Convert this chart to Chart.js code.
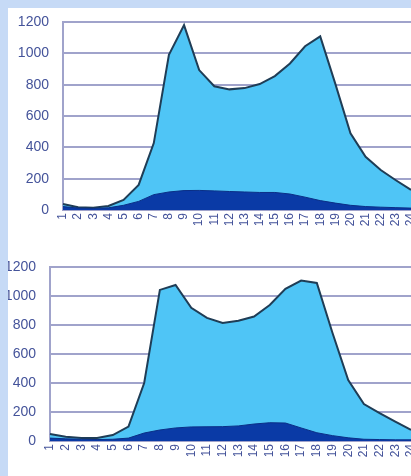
<!DOCTYPE html>
<html>
<head>
<meta charset="utf-8">
<title>Hourly area charts</title>
<script src="https://cdn.jsdelivr.net/npm/chart.js@4.4.1/dist/chart.umd.min.js"></script>
<style>
    html, body {
        margin: 0;
        padding: 0;
        width: 411px;
        height: 476px;
        overflow: hidden;
        background: #c6daf6;
    }
    #panel {
        position: absolute;
        left: 8px;
        top: 8px;
        width: 440px;
        height: 480px;
        background: #ffffff;
        overflow: hidden;
    }
    canvas {
        position: absolute;
        left: 0;
    }
    #topChart { top: 0; }
    #bottomChart { top: 226px; }
</style>
</head>
<body>
<div id="panel">
    <canvas id="topChart" width="423" height="226"></canvas>
    <canvas id="bottomChart" width="423" height="242"></canvas>
</div>

<script>
// hours of the day, x axis
const hours = ['1', '2', '3', '4', '5', '6', '7', '8', '9', '10', '11', '12',
               '13', '14', '15', '16', '17', '18', '19', '20', '21', '22', '23', '24'];

// y axis ticks
const yTicks = [0, 200, 400, 600, 800, 1000, 1200];

// upper chart
const topTotal = [38, 18, 15, 26, 64, 160, 427, 990, 1180, 893, 790, 770,
                  778, 804, 855, 935, 1045, 1108, 805, 490, 340, 255, 190, 128];
const topBase  = [22, 12, 10, 14, 30, 55, 98, 115, 124, 125, 122, 118,
                  115, 112, 112, 102, 82, 60, 44, 30, 22, 18, 15, 12];

// lower chart
const bottomTotal = [48, 30, 21, 20, 41, 99, 400, 1042, 1076, 918, 849, 814,
                     830, 858, 938, 1049, 1106, 1090, 745, 421, 255, 193, 133, 76];
const bottomBase  = [20, 15, 12, 10, 12, 20, 55, 76, 90, 97, 98, 99,
                     104, 117, 126, 124, 90, 57, 37, 22, 12, 10, 8, 8];

const LIGHT = '#4fc5f6';
const DARK = '#0a3aa6';
const OUTLINE = '#1f3d56';
const GRID = '#a0a3cb';
const TEXT = '#44539a';

function makeChart(canvasId, base, total, layout) {
    const ctx = document.getElementById(canvasId).getContext('2d');
    return new Chart(ctx, {
        type: 'line',
        data: {
            labels: hours,
            datasets: [
                {
                    // dark lower band (drawn on top)
                    data: base,
                    fill: 'origin',
                    backgroundColor: DARK,
                    borderColor: '#0b2f86',
                    borderWidth: 1,
                    pointRadius: 0,
                    tension: 0
                },
                {
                    // total
                    data: total,
                    fill: 'origin',
                    backgroundColor: LIGHT,
                    borderColor: OUTLINE,
                    borderWidth: 2,
                    pointRadius: 0,
                    tension: 0
                }
            ]
        },
        options: {
            responsive: false,
            animation: false,
            events: [],
            layout: {
                padding: { top: layout.top, right: 20, bottom: 0, left: 0 }
            },
            plugins: {
                legend: { display: false },
                tooltip: { enabled: false }
            },
            scales: {
                x: {
                    offset: false,
                    grid: { display: false, drawTicks: false },
                    border: { display: true, color: GRID, width: 2 },
                    ticks: {
                        color: TEXT,
                        font: { family: 'Liberation Sans, Arial', size: 12 },
                        minRotation: 90,
                        maxRotation: 90,
                        autoSkip: false,
                        padding: 3
                    },
                    afterFit: (scale) => { scale.height = layout.xHeight; }
                },
                y: {
                    min: 0,
                    max: 1200,
                    afterBuildTicks: (scale) => {
                        scale.ticks = yTicks.map(v => ({ value: v }));
                    },
                    // invisible tick marks keep the labels away from the axis
                    grid: { color: GRID, lineWidth: 2, drawTicks: true, tickLength: 14, tickColor: 'rgba(0,0,0,0)' },
                    border: { display: true, color: GRID, width: 2 },
                    ticks: {
                        color: TEXT,
                        font: { family: 'Liberation Sans, Arial', size: 14 },
                        padding: 0,
                        callback: (value) => String(value)
                    },
                    afterFit: (scale) => { scale.width = layout.yWidth; }
                }
            }
        }
    });
}

document.addEventListener('DOMContentLoaded', () => {
    makeChart('topChart', topBase, topTotal, { top: 14, xHeight: 24, yWidth: 55 });
    makeChart('bottomChart', bottomBase, bottomTotal, { top: 33, xHeight: 35, yWidth: 42 });
});
</script>
</body>
</html>
